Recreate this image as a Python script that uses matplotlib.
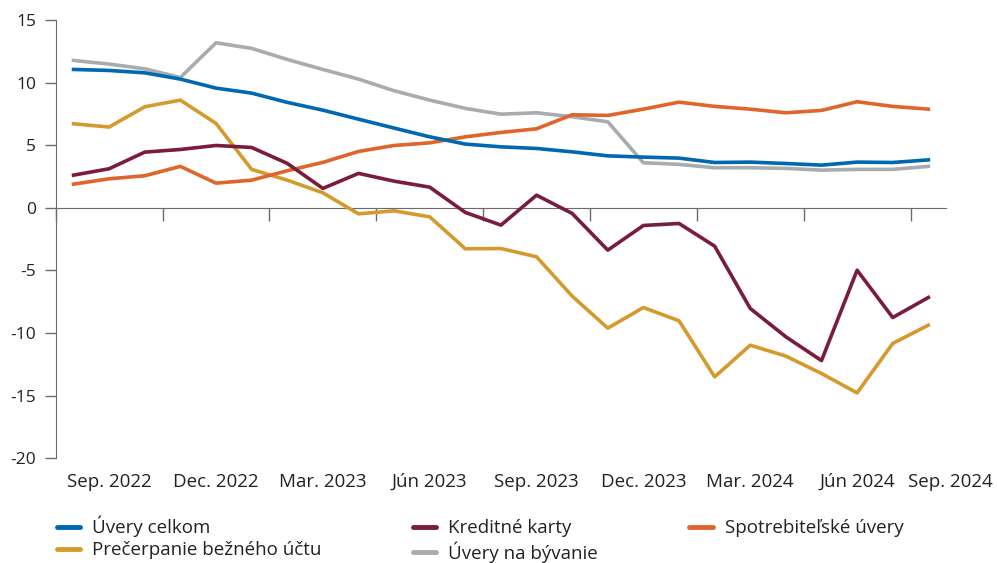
import matplotlib
matplotlib.use("Agg")
import matplotlib.pyplot as plt
import matplotlib.transforms as mtransforms

plt.rcParams['font.family'] = ['Open Sans', 'DejaVu Sans']
plt.rcParams['axes.unicode_minus'] = False

# monthly data, 25 points
uvery_celkom = [11.05, 10.97, 10.78, 10.28, 9.56, 9.16, 8.42, 7.80, 7.08, 6.37, 5.67, 5.09,
                4.87, 4.74, 4.47, 4.15, 4.05, 3.97, 3.62, 3.65, 3.54, 3.41, 3.65, 3.62, 3.83]
kreditne_karty = [2.61, 3.12, 4.45, 4.66, 4.98, 4.82, 3.55, 1.55, 2.75, 2.13, 1.65, -0.37,
                  -1.38, 1.01, -0.45, -3.38, -1.41, -1.25, -3.06, -8.04, -10.3, -12.2, -4.98, -8.76, -7.16]
spotrebitelske = [1.89, 2.32, 2.56, 3.31, 1.97, 2.21, 2.96, 3.63, 4.50, 4.98, 5.19, 5.67,
                  6.02, 6.31, 7.43, 7.38, 7.88, 8.44, 8.10, 7.88, 7.59, 7.78, 8.47, 8.10, 7.88]
precerpanie = [6.71, 6.45, 8.07, 8.60, 6.74, 3.07, 2.21, 1.20, -0.48, -0.24, -0.72, -3.27,
               -3.25, -3.91, -7.05, -9.61, -7.96, -9.02, -13.5, -10.97, -11.84, -13.23, -14.78, -10.83, -9.37]
byvanie = [11.77, 11.48, 11.10, 10.41, 13.18, 12.73, 11.85, 11.05, 10.28, 9.35, 8.60, 7.94,
           7.48, 7.59, 7.27, 6.87, 3.60, 3.47, 3.20, 3.20, 3.15, 3.01, 3.07, 3.07, 3.31]

tick_labels = ['Sep. 2022', 'Dec. 2022', 'Mar. 2023', 'Jún 2023', 'Sep. 2023',
               'Dec. 2023', 'Mar. 2024', 'Jún 2024', 'Sep. 2024']

fig = plt.figure(figsize=(9.97, 5.63), dpi=100)
ax = fig.add_axes([0.0559, 0.186, 0.8931, 0.7785])

x = list(range(len(uvery_celkom)))
lw = 2.6
ax.plot(x, uvery_celkom, color='#0067b1', lw=lw, label='Úvery celkom', zorder=5)
ax.plot(x, precerpanie, color='#d49a2e', lw=lw, label='Prečerpanie bežného účtu', zorder=3)
ax.plot(x, kreditne_karty, color='#7a1d3b', lw=lw, label='Kreditné karty', zorder=4)
ax.plot(x, byvanie, color='#a8acaf', lw=lw, label='Úvery na bývanie', zorder=2)
ax.plot(x, spotrebitelske, color='#e0652a', lw=lw, label='Spotrebiteľské úvery', zorder=3)

ax.set_xlim(-0.5, len(x) - 0.5)
ax.set_ylim(-20, 15)
ax.set_yticks(range(-20, 16, 5))

axis_col = '#6b6b6b'
for s in ['top', 'right']:
    ax.spines[s].set_visible(False)
ax.spines['left'].set_color(axis_col)
ax.spines['bottom'].set_position(('data', 0))
ax.spines['bottom'].set_color(axis_col)
ax.tick_params(axis='y', length=8, width=1, color=axis_col, labelsize=12.5,
               labelcolor='#222222', pad=6)
ax.tick_params(axis='x', length=9, width=1, color=axis_col, direction='out',
               labelbottom=False)
ax.set_xticks([-0.5 + 3 * k for k in range(9)])

# category labels sit below the plot area
trans = mtransforms.blended_transform_factory(ax.transData, ax.transAxes)
for k, lab in enumerate(tick_labels):
    pos = min(1 + 3 * k, len(x) - 0.38)
    ax.text(pos, -0.054, lab, transform=trans, ha='center', va='center',
            fontsize=13.5, color='#222222')

leg = fig.legend(loc='upper left', bbox_to_anchor=(0.057, 0.084), ncol=3,
                 frameon=False, fontsize=13.5, handlelength=1.25, handletextpad=0.65,
                 columnspacing=4.85, labelspacing=0.22, borderaxespad=0, borderpad=0)
for h in leg.get_lines():
    h.set_linewidth(3.5)
    h.set_solid_capstyle('round')
for t in leg.get_texts():
    t.set_color('#222222')

fig.savefig('out.png', dpi=100)
